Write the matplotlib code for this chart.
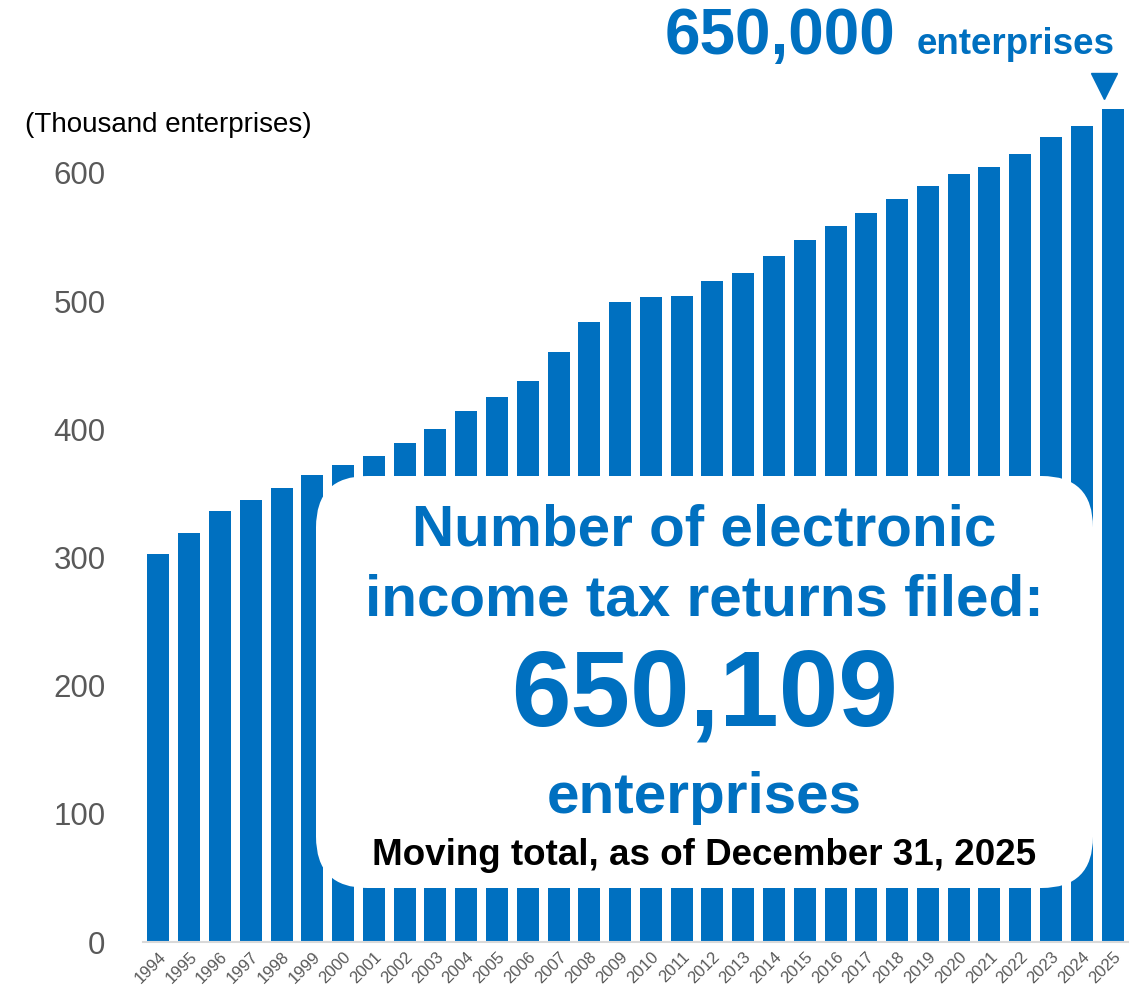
import matplotlib
matplotlib.use("Agg")
import matplotlib.pyplot as plt
from matplotlib.patches import FancyBboxPatch

# Electronic income tax returns filed, thousand enterprises (moving total)
years = list(range(1994, 2026))
filings = [303, 319, 336, 345, 354, 364, 372, 379, 389, 400,
           414, 425, 438, 460, 484, 499, 503, 504, 516, 522,
           535, 548, 559, 569, 580, 590, 599, 605, 615, 628,
           637, 650]
year_labels = [str(y) for y in years]

headline_total = "650,109"
milestone = "650,000"

BLUE = "#0070C0"
GRAY = "#595959"

plt.rcParams["font.family"] = ["Liberation Sans", "DejaVu Sans"]

W, H = 1142, 988
fig = plt.figure(figsize=(W / 100, H / 100), dpi=100)
ax = fig.add_axes([143 / W, (H - 942) / H, 985 / W, 0.9081])

x = list(range(len(years)))
ax.bar(x, filings, width=0.715, color=BLUE, zorder=2)

ax.set_xlim(-0.5, len(years) - 0.5)
ax.set_ylim(0, 700)
ax.set_yticks([0, 100, 200, 300, 400, 500, 600])
ax.tick_params(axis="y", length=0, pad=27, labelsize=22.5, labelcolor=GRAY)
ax.set_xticks(x)
ax.set_xticklabels(year_labels, rotation=45, ha="right", rotation_mode="anchor",
                   fontsize=12, color=GRAY)
ax.tick_params(axis="x", length=0, pad=5)
for side in ["top", "right", "left"]:
    ax.spines[side].set_visible(False)
ax.spines["bottom"].set_color("#D9D9D9")
ax.spines["bottom"].set_linewidth(1.5)

# unit label above the y axis
fig.text(25 / W, 1 - 125 / H, "(Thousand enterprises)", fontsize=20,
         color="black", ha="left", va="center")

# milestone marker over the latest bar
ax.plot([x[-1] - 0.27], [filings[-1] + 18], marker="v", markersize=19,
        color=BLUE, clip_on=False, zorder=3)
fig.text(895 / W, 1 - 54 / H, milestone, fontsize=46, fontweight="bold",
         color=BLUE, ha="right", va="baseline")
fig.text(917 / W, 1 - 54 / H, "enterprises", fontsize=26.5, fontweight="bold",
         color=BLUE, ha="left", va="baseline")

# white callout box over the bars
bx0, bx1 = 316 / W, 1093 / W
by0, by1 = 1 - 888 / H, 1 - 476 / H
box = FancyBboxPatch((bx0, by0), bx1 - bx0, by1 - by0,
                     boxstyle="round,pad=0,rounding_size=0.045",
                     mutation_aspect=W / H, transform=fig.transFigure,
                     facecolor="white", edgecolor="none", zorder=5)
fig.patches.append(box)

cx = (bx0 + bx1) / 2
fig.text(cx, 1 - 530 / H, "Number of electronic", fontsize=42, fontweight="bold",
         color=BLUE, ha="center", va="center", zorder=6)
fig.text(cx, 1 - 600 / H, "income tax returns filed:", fontsize=42,
         fontweight="bold", color=BLUE, ha="center", va="center", zorder=6)
fig.text(cx, 1 - 698 / H, headline_total, fontsize=77, fontweight="bold",
         color=BLUE, ha="center", va="center", zorder=6)
fig.text(cx, 1 - 798 / H, "enterprises", fontsize=42, fontweight="bold",
         color=BLUE, ha="center", va="center", zorder=6)
fig.text(cx, 1 - 855 / H, "Moving total, as of December 31, 2025", fontsize=26.5,
         fontweight="bold", color="black", ha="center", va="center", zorder=6)

fig.savefig("out.png", dpi=100, facecolor="white")
